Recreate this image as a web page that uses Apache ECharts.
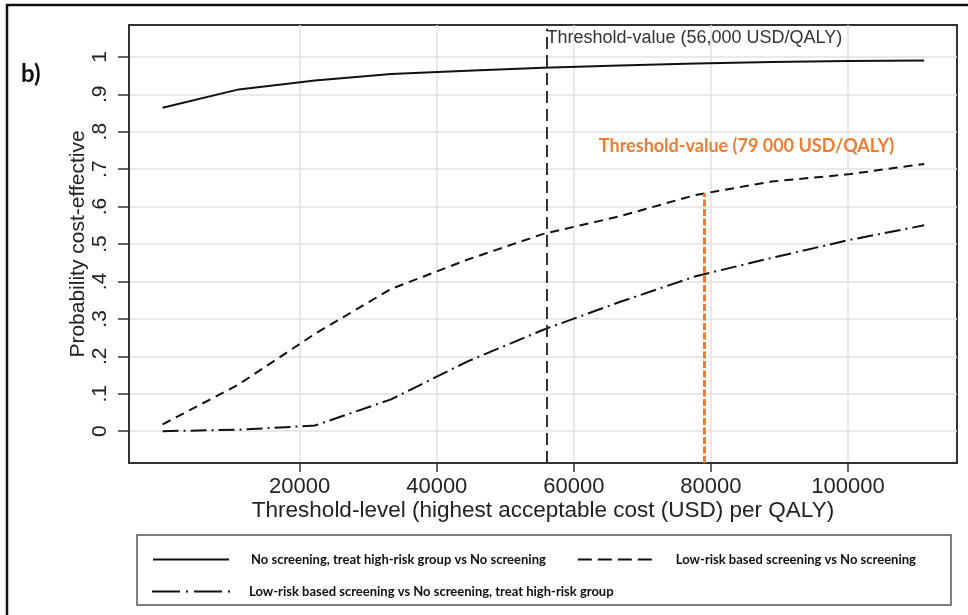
<!DOCTYPE html>
<html>
<head>
<meta charset="utf-8">
<script src="https://cdn.jsdelivr.net/npm/echarts@6/dist/echarts.min.js"></script>
<style>
  html, body { margin: 0; padding: 0; background: #fff; }
  #chart { width: 968px; height: 615px; }
</style>
</head>
<body>
<div id="chart"></div>
<script>
// Willingness-to-pay thresholds (USD per QALY) at which each comparison was evaluated
const wtpLevels = [0, 11111, 22222, 33333, 44444, 55556, 66667, 77778, 88889, 100000, 111111];

// Probability cost-effective for each comparison
const treatHighRiskVsNone = [0.864, 0.913, 0.937, 0.954, 0.963, 0.971, 0.977, 0.982, 0.986, 0.989, 0.990];
const lowRiskVsNone       = [0.018, 0.125, 0.260, 0.380, 0.458, 0.527, 0.574, 0.631, 0.667, 0.686, 0.714];
const lowRiskVsTreatHigh  = [0.000, 0.004, 0.015, 0.085, 0.186, 0.271, 0.345, 0.414, 0.463, 0.510, 0.550];

const seriesNames = [
  'No screening, treat high-risk group vs No screening',
  'Low-risk based screening vs No screening',
  'Low-risk based screening vs No screening, treat high-risk group'
];

// Axis ticks
const xTicks = [20000, 40000, 60000, 80000, 100000];
const yTicks = [0, 0.1, 0.2, 0.3, 0.4, 0.5, 0.6, 0.7, 0.8, 0.9, 1];
const yTickLabels = ['0', '.1', '.2', '.3', '.4', '.5', '.6', '.7', '.8', '.9', '1'];

// Reference threshold values (USD/QALY)
const thresholdMain = 56000;
const thresholdAlt = 79000;
const thresholdMainLabel = 'Threshold-value (56,000 USD/QALY)';
const thresholdAltLabel = 'Threshold-value (79 000 USD/QALY)';

const X_MIN = -4900, X_MAX = 115900;
const Y_MIN = -0.085, Y_MAX = 1.085;

function pairs(ys) { return wtpLevels.map((x, i) => [x, ys[i]]); }

// Value of a curve at an arbitrary threshold (linear between evaluated points)
function valueAt(ys, x) {
  for (let i = 0; i < wtpLevels.length - 1; i++) {
    const x0 = wtpLevels[i], x1 = wtpLevels[i + 1];
    if (x >= x0 && x <= x1) return ys[i] + (ys[i + 1] - ys[i]) * (x - x0) / (x1 - x0);
  }
  return ys[ys.length - 1];
}

const axisFont = 'Liberation Sans, Arial, sans-serif';
const ink = '#111';

// Legend key for the dash-dot comparison: long dash, dot, long dash, dot
const dashDotKey = 'path://M0,0h28v2h-28z M34,0h2v2h-2z M42,0h28v2h-28z M76,0h2v2h-2z';

const chart = echarts.init(document.getElementById('chart'), null, { renderer: 'canvas' });

const lineBase = {
  type: 'line', symbol: 'none', showSymbol: false, smooth: false, silent: true, z: 3,
  itemStyle: { color: ink }
};

const legendText = { fontFamily: 'Lato, sans-serif', fontWeight: 'bold', fontSize: 13, color: ink };

chart.setOption({
  animation: false,
  backgroundColor: '#fff',
  grid: {
    left: 129, right: 11, top: 25, bottom: 152,
    show: true, borderColor: '#333', borderWidth: 2, containLabel: false
  },
  xAxis: {
    type: 'value', min: X_MIN, max: X_MAX,
    name: 'Threshold-level (highest acceptable cost (USD) per QALY)',
    nameLocation: 'middle', nameGap: 36, nameMoveOverlap: false,
    nameTextStyle: { fontFamily: axisFont, fontSize: 22.5, color: '#222' },
    axisLine: { show: true, onZero: false, lineStyle: { color: '#333', width: 2 } },
    axisTick: { show: true, length: 9, customValues: xTicks, lineStyle: { color: '#333', width: 1.5 } },
    axisLabel: {
      show: true, customValues: xTicks, margin: 13,
      fontFamily: axisFont, fontSize: 22, color: '#222',
      formatter: v => String(v)
    },
    splitLine: { show: true, lineStyle: { color: '#e2e2e2', width: 1.5 } }
  },
  yAxis: {
    type: 'value', min: Y_MIN, max: Y_MAX,
    name: 'Probability cost-effective',
    nameLocation: 'middle', nameGap: 40, nameMoveOverlap: false,
    nameTextStyle: { fontFamily: axisFont, fontSize: 21, color: '#222' },
    axisLine: { show: true, onZero: false, lineStyle: { color: '#333', width: 2 } },
    axisTick: { show: true, length: 11, customValues: yTicks, lineStyle: { color: '#333', width: 1.5 } },
    axisLabel: {
      show: true, customValues: yTicks, rotate: 90, margin: 18,
      fontFamily: axisFont, fontSize: 21, color: '#222',
      formatter: v => {
        let best = 0;
        yTicks.forEach((t, i) => { if (Math.abs(t - v) < Math.abs(yTicks[best] - v)) best = i; });
        return yTickLabels[best];
      }
    },
    splitLine: { show: true, lineStyle: { color: '#e2e2e2', width: 1.5 } }
  },
  legend: [
    {
      data: [
        { name: seriesNames[0] },
        { name: seriesNames[1], lineStyle: { type: [14, 6] } }
      ],
      left: 147, top: 548, orient: 'horizontal',
      itemWidth: 76, itemHeight: 14, itemGap: 31,
      selectedMode: false,
      itemStyle: { opacity: 0 },
      textStyle: Object.assign({ padding: [0, 0, 0, 17] }, legendText)
    },
    {
      data: [
        { name: seriesNames[2], icon: dashDotKey, itemStyle: { color: ink, opacity: 1 } }
      ],
      left: 147, top: 580, orient: 'horizontal',
      itemWidth: 78, itemHeight: 2, symbolKeepAspect: false,
      selectedMode: false,
      textStyle: Object.assign({ padding: [0, 0, 0, 14] }, legendText)
    }
  ],
  graphic: [
    // page frame (left and top edges)
    { type: 'polyline', shape: { points: [[7, 620], [7, 5], [968, 5]] },
      style: { stroke: '#111', lineWidth: 2.5, fill: 'none' }, z: 10 },
    // panel tag
    { type: 'text', left: 21, top: 62,
      style: { text: 'b)', font: 'bold 24px Lato, sans-serif', fill: ink }, z: 10 },
    // legend frame
    { type: 'rect', shape: { x: 137, y: 535, width: 814, height: 70 },
      style: { fill: 'none', stroke: '#555', lineWidth: 1.5 }, z: 1 }
  ],
  series: [
    Object.assign({}, lineBase, {
      name: seriesNames[0],
      data: pairs(treatHighRiskVsNone),
      lineStyle: { color: ink, width: 2, type: 'solid' }
    }),
    Object.assign({}, lineBase, {
      name: seriesNames[1],
      data: pairs(lowRiskVsNone),
      lineStyle: { color: ink, width: 2, type: [9, 6] },
      markLine: {
        silent: true, symbol: 'none', animation: false,
        label: { show: false },
        data: [
          [
            { coord: [thresholdMain, Y_MIN], lineStyle: { color: '#333', width: 2, type: [12, 6] } },
            { coord: [thresholdMain, 1.075] }
          ],
          [
            { coord: [thresholdAlt, Y_MIN], lineStyle: { color: '#ED7D31', width: 3, type: [7, 2.5] } },
            { coord: [thresholdAlt, valueAt(lowRiskVsNone, thresholdAlt)] }
          ]
        ]
      },
      markPoint: {
        silent: true, animation: false, symbol: 'circle', symbolSize: 0,
        data: [
          {
            coord: [thresholdMain, 1.05],
            label: { show: true, position: 'right', distance: 0, formatter: thresholdMainLabel,
                     fontFamily: axisFont, fontSize: 18, color: '#333' }
          },
          {
            coord: [85200, 0.76],
            label: { show: true, position: 'inside', formatter: thresholdAltLabel,
                     fontFamily: 'Lato, sans-serif', fontWeight: 'bold', fontSize: 18, color: '#ED7D31' }
          }
        ]
      }
    }),
    Object.assign({}, lineBase, {
      name: seriesNames[2],
      data: pairs(lowRiskVsTreatHigh),
      lineStyle: { color: ink, width: 2, type: [16, 5, 2, 5] }
    })
  ]
});
</script>
</body>
</html>
